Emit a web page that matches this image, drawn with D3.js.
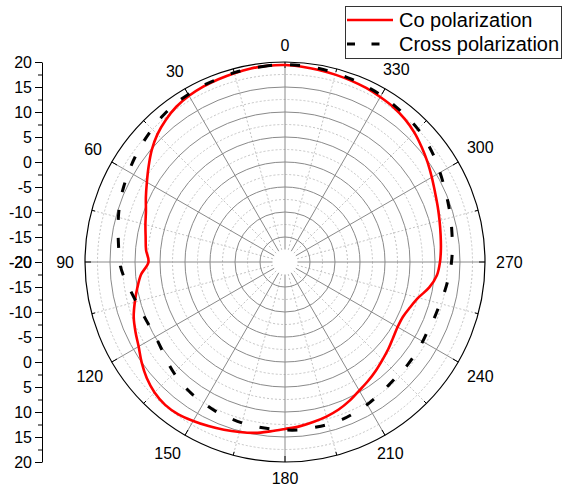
<!DOCTYPE html>
<html>
<head>
<meta charset="utf-8">
<script src="https://cdn.jsdelivr.net/npm/d3@7"></script>
<style>
  html, body { margin: 0; padding: 0; background: #fff; }
  svg { display: block; font-family: "Liberation Sans", Arial, sans-serif; }
</style>
</head>
<body>
<svg id="chart" width="564" height="492"></svg>
<script>
// Measurement angles (degrees, counter-clockwise from the top)
const angles = d3.range(0, 360, 5);

// Co-polarized gain (dB)
const coPol = [
  19.4, 19.4, 19.3, 19.1, 18.9, 18.7, 18.4, 17.9, 17.1, 16.1, 14.8, 13.3,
  11.9, 10.7,  9.6,  8.9,  8.3,  7.9,  7.3,  8.9, 10.0, 11.1, 12.2, 13.0,
  13.8, 15.0, 16.1, 16.9, 17.3, 17.2, 16.7, 16.2, 15.7, 15.2, 14.7, 14.0,
  13.4, 13.0, 12.5, 12.0, 11.4, 10.6,  9.7,  9.0,  8.3,  7.6,  7.0,  6.4,
   6.0,  6.0,  6.6,  7.6,  9.3, 10.5, 11.0, 11.3, 11.6, 12.0, 12.5, 13.1,
  13.9, 14.8, 15.7, 16.6, 17.3, 17.8, 18.1, 18.4, 18.6, 18.8, 19.0, 19.2
];

// Cross-polarized gain (dB)
const crossPol = [
  19.5, 19.4, 19.3, 19.2, 19.0, 18.9, 18.7, 18.5, 18.1, 17.6, 17.1, 16.6,
  16.1, 15.6, 15.1, 14.5, 13.9, 13.4, 13.1, 12.4, 11.5, 10.8, 10.3, 10.0,
   9.9, 10.2, 10.8, 11.4, 11.9, 12.3, 12.6, 12.9, 13.1, 13.3, 13.4, 13.5,
  13.6, 13.7, 13.6, 13.6, 13.5, 13.2, 12.9, 12.5, 12.2, 12.0, 12.0, 11.9,
  11.8, 11.7, 11.9, 12.1, 12.5, 12.9, 13.3, 13.6, 13.9, 14.3, 14.7, 15.2,
  15.8, 16.5, 17.1, 17.6, 17.9, 18.2, 18.5, 18.7, 18.9, 19.1, 19.3, 19.4
];

const angleLabels = d3.range(0, 360, 30);
const radialTicks = d3.range(-20, 21, 5);
const radialMinor = d3.range(-17.5, 20, 5);
const seriesNames = ["Co polarization", "Cross polarization"];

const svg = d3.select("#chart");
const cx = 285, cy = 262, R = 200;
const hole = 12.5;

const r = d3.scaleLinear().domain([-20, 20]).range([0, R]);
const toRad = a => a * Math.PI / 180;
const pt = (a, rr) => [cx - rr * Math.sin(toRad(a)), cy - rr * Math.cos(toRad(a))];

const grid = svg.append("g");

// dotted minor rings
grid.selectAll("circle.minor")
  .data(radialMinor.filter(v => r(v) > hole + 1))
  .join("circle")
  .attr("cx", cx).attr("cy", cy).attr("r", d => r(d))
  .attr("fill", "none").attr("stroke", "#c4c4c4").attr("stroke-width", 1)
  .attr("stroke-dasharray", "2,2");

// dotted minor spokes
grid.selectAll("line.minorSpoke")
  .data(d3.range(15, 360, 30))
  .join("line")
  .attr("x1", d => pt(d, hole)[0]).attr("y1", d => pt(d, hole)[1])
  .attr("x2", d => pt(d, R)[0]).attr("y2", d => pt(d, R)[1])
  .attr("stroke", "#c4c4c4").attr("stroke-width", 1)
  .attr("stroke-dasharray", "2,2");

// solid major rings
grid.selectAll("circle.major")
  .data(radialTicks.filter(v => v > -20 && v < 20))
  .join("circle")
  .attr("cx", cx).attr("cy", cy).attr("r", d => r(d))
  .attr("fill", "none").attr("stroke", "#8a8a8a").attr("stroke-width", 1);

// solid major spokes
grid.selectAll("line.majorSpoke")
  .data(angleLabels)
  .join("line")
  .attr("x1", d => pt(d, hole)[0]).attr("y1", d => pt(d, hole)[1])
  .attr("x2", d => pt(d, R)[0]).attr("y2", d => pt(d, R)[1])
  .attr("stroke", "#8a8a8a").attr("stroke-width", 1);

// outer frame
svg.append("circle")
  .attr("cx", cx).attr("cy", cy).attr("r", R)
  .attr("fill", "none").attr("stroke", "#000").attr("stroke-width", 1.2);

// angular ticks (inward)
svg.append("g").selectAll("line")
  .data(d3.range(0, 360, 15))
  .join("line")
  .attr("x1", d => pt(d, R)[0]).attr("y1", d => pt(d, R)[1])
  .attr("x2", d => pt(d, R - (d % 30 === 0 ? 6 : 3.5))[0])
  .attr("y2", d => pt(d, R - (d % 30 === 0 ? 6 : 3.5))[1])
  .attr("stroke", "#000").attr("stroke-width", 1);

// angle labels, pushed clear of the frame by their own extent
const fs = 16;
const labG = svg.append("g").attr("font-size", fs).attr("fill", "#000");
angleLabels.forEach(a => {
  const t = labG.append("text").text(a).attr("text-anchor", "middle").attr("dy", "0.35em");
  const hw = t.node().getComputedTextLength() / 2;
  const hh = fs * 0.36;
  const s = Math.abs(Math.sin(toRad(a))), c = Math.abs(Math.cos(toRad(a)));
  const rr = R + 11 + s * hw + c * hh;
  const p = pt(a, rr);
  // small per-label offsets for the diagonal positions
  let dx = 0, dy = 0;
  if (a === 60 || a === 300) dy = -2;
  if (a === 120 || a === 240) dy = 2;
  if (a === 150 || a === 210) { dx = -6; dy = -1.5; }
  t.attr("x", p[0] + dx).attr("y", p[1] + dy);
});

// curves
const line = d3.lineRadial()
  .angle(d => -toRad(d[0]))
  .radius(d => r(d[1]))
  .curve(d3.curveCatmullRomClosed.alpha(0.5));

const plot = svg.append("g").attr("transform", `translate(${cx},${cy})`);
plot.append("path")
  .attr("d", line(angles.map((a, i) => [a, coPol[i]])))
  .attr("fill", "none").attr("stroke", "#ff0000").attr("stroke-width", 2.6);
plot.append("path")
  .attr("d", line(angles.map((a, i) => [a, crossPol[i]])))
  .attr("fill", "none").attr("stroke", "#000").attr("stroke-width", 3)
  .attr("stroke-dasharray", "10,18");

// left radial scale (mirrored above and below the centre)
const axX = 42;
const yTop = d3.scaleLinear().domain([-20, 20]).range([cy, cy - R]);
const yBot = d3.scaleLinear().domain([-20, 20]).range([cy, cy + R]);
[yTop, yBot].forEach(sc => {
  const g = svg.append("g").attr("transform", `translate(${axX},0)`);
  g.call(d3.axisLeft(sc).tickValues(radialTicks).tickSize(7).tickSizeOuter(0)
      .tickPadding(3).tickFormat(d => String(d)));
  g.selectAll("text").attr("font-size", fs).attr("fill", "#000")
    .attr("font-family", "\"Liberation Sans\", Arial, sans-serif");
  const m = svg.append("g").attr("transform", `translate(${axX},0)`);
  m.call(d3.axisLeft(sc).tickValues(radialMinor).tickSize(4).tickSizeOuter(0).tickFormat(""));
  m.select(".domain").remove();
});

// legend
const lg = svg.append("g");
lg.append("rect").attr("x", 345.5).attr("y", 6.5).attr("width", 216).attr("height", 52)
  .attr("fill", "#fff").attr("stroke", "#333").attr("stroke-width", 1);
const rows = [
  { name: seriesNames[0], y: 20, color: "#ff0000", dash: null, w: 2.6 },
  { name: seriesNames[1], y: 44, color: "#000", dash: "8,16.5", w: 3 }
];
rows.forEach(d => {
  lg.append("line").attr("x1", 347).attr("x2", 393).attr("y1", d.y).attr("y2", d.y)
    .attr("stroke", d.color).attr("stroke-width", d.w)
    .attr("stroke-dasharray", d.dash);
  lg.append("text").attr("x", 399).attr("y", d.y).attr("dy", "0.36em")
    .attr("font-size", 20).attr("fill", "#000").text(d.name);
});
</script>
</body>
</html>
